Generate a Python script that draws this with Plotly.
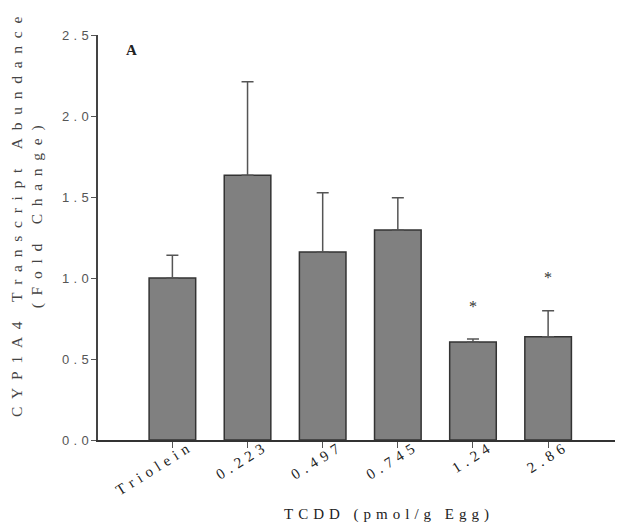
import plotly.graph_objects as go

# CYP1A4 fold change by TCDD dose
categories = ["Triolein", "0.223", "0.497", "0.745", "1.24", "2.86"]
means = [1.00, 1.634, 1.16, 1.296, 0.605, 0.638]
upper = [1.14, 2.212, 1.527, 1.496, 0.623, 0.798]   # mean + error
significant = [False, False, False, False, True, True]
y_ticks = [0.0, 0.5, 1.0, 1.5, 2.0, 2.5]

SERIF = "Liberation Serif, Times New Roman, serif"
SANS = "Liberation Sans, Arial, sans-serif"


def spaced(text, gap):
    """Spread letters apart with a fixed-width space character."""
    return gap.join(text)


err_plus = [u - m for u, m in zip(upper, means)]

fig = go.Figure()
fig.add_trace(go.Bar(
    x=categories,
    y=means,
    width=0.62,
    marker=dict(color="#808080", line=dict(color="#333333", width=1.5)),
    error_y=dict(type="data", symmetric=False, array=err_plus,
                 arrayminus=[0] * len(means),
                 color="#555555", thickness=1.5, width=6),
    showlegend=False,
))

# significance markers above the error bars (x given as category index)
annotations = []
for i, (top, sig) in enumerate(zip(upper, significant)):
    if sig:
        annotations.append(dict(
            x=i, y=top, xref="x", yref="y", text="*", showarrow=False,
            xanchor="center", yanchor="middle", yshift=33,
            font=dict(family=SERIF, size=16, color="#333333"),
        ))

# panel letter
annotations.append(dict(
    x=(131 - 98) / 517, y=(440 - 50) / 405, xref="paper", yref="paper",
    text="<b>A</b>", showarrow=False, xanchor="center", yanchor="middle",
    font=dict(family=SERIF, size=15, color="#222222"),
))

# y-axis title (two lines)
annotations.append(dict(
    x=(27 - 98) / 517, y=(440 - 217) / 405, xref="paper", yref="paper",
    text=spaced("CYP1A4 Transcript Abundance", "\u2002") + "<br>"
    + spaced("(Fold Change)", "\u2002"),
    textangle=-90, showarrow=False, xanchor="center", yanchor="middle",
    font=dict(family=SERIF, size=15.5, color="#444444"),
))

# x-axis title
annotations.append(dict(
    x=(386 - 98) / 517, y=(440 - 514) / 405, xref="paper", yref="paper",
    text=spaced("TCDD (pmol/g Egg)", "\u2004"), showarrow=False,
    xanchor="center", yanchor="middle",
    font=dict(family=SERIF, size=15, color="#222222"),
))

fig.update_layout(
    width=622, height=531,
    margin=dict(l=98, r=7, t=35, b=91),
    paper_bgcolor="white", plot_bgcolor="white",
    annotations=annotations,
)

fig.update_xaxes(
    type="category",
    range=[-0.99, 5.89],
    showline=True, linecolor="#333333", linewidth=1.5,
    ticks="outside", ticklen=6, tickcolor="#555555", tickwidth=1.2,
    tickvals=categories,
    ticktext=[spaced(c, "\u2004") for c in categories],
    tickangle=-32,
    ticklabelshift=14,
    ticklabelstandoff=-13,
    tickfont=dict(family=SERIF, size=15, color="#222222"),
    showgrid=False, zeroline=False,
)

fig.update_yaxes(
    range=[0, 2.5],
    showline=True, linecolor="#444444", linewidth=1.5,
    ticks="outside", ticklen=5, tickcolor="#555555", tickwidth=1.2,
    tickvals=y_ticks,
    ticktext=[spaced(f"{v:.1f}", "\u2004") for v in y_ticks],
    tickfont=dict(family=SANS, size=13, color="#555555"),
    showgrid=False, zeroline=False,
)

fig.write_html("out.html")
